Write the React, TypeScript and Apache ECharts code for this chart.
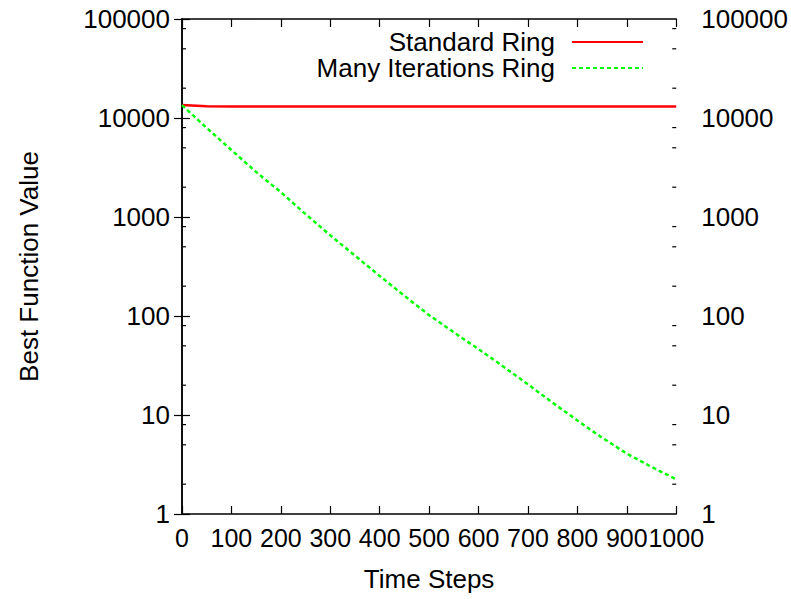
import React, { useEffect, useRef } from "react";
import * as echarts from "echarts";

// Time steps shared by both runs
const steps = [0, 50, 100, 150, 200, 250, 300, 350, 400, 450, 500, 550, 600, 650, 700, 750, 800, 850, 900, 950, 1000];

// Best function value, standard ring topology
const standardRing = [13500, 13150, 13100, 13100, 13100, 13100, 13100, 13100, 13100, 13100, 13100, 13100, 13100, 13100, 13100, 13100, 13100, 13100, 13100, 13100, 13100];

// Best function value, ring with many iterations
const manyIterationsRing = [13500, 7940, 4750, 2850, 1780, 1070, 653, 407, 254, 160, 102, 68.4, 46.2, 30.9, 20.4, 13.3, 8.8, 5.9, 4.07, 2.99, 2.24];

// Minor tick positions on the log axis (2, 5, 8 of each decade)
const minorTickValues = [2, 5, 8, 20, 50, 80, 200, 500, 800, 2000, 5000, 8000, 20000, 50000, 80000];

const FONT = "Liberation Sans";
const FS = 26;

export default function App() {
  const ref = useRef<HTMLDivElement>(null);

  useEffect(() => {
    if (!ref.current) return;
    const chart = echarts.init(ref.current, undefined, { renderer: "svg" });

    const axisLine = { show: true, lineStyle: { color: "#000", width: 1.5 } };
    const tick = { show: true, inside: true, length: 8, lineStyle: { color: "#000", width: 1.2 } };
    const label = { color: "#000", fontFamily: FONT, fontSize: FS };
    const legendBase = {
      align: "right",
      itemWidth: 71,
      itemHeight: 14,
      itemStyle: { opacity: 0 },
      textStyle: { color: "#000", fontFamily: FONT, fontSize: FS, lineHeight: 24, padding: [0, 12, 0, 0] },
      selectedMode: false,
    };

    chart.setOption({
      animation: false,
      backgroundColor: "#fff",
      grid: { left: 182, right: 113, top: 19, bottom: 85, containLabel: false },
      legend: [
        { ...legendBase, data: ["Standard Ring"], right: 142, top: 24 },
        { ...legendBase, data: ["Many Iterations Ring"], right: 142, top: 50 },
      ],
      xAxis: [
        {
          type: "value",
          min: 0,
          max: 1000,
          interval: 100,
          position: "bottom",
          name: "Time Steps",
          nameLocation: "middle",
          nameGap: 52,
          nameTextStyle: { color: "#000", fontFamily: FONT, fontSize: FS },
          axisLine,
          axisTick: tick,
          axisLabel: {
            ...label,
            fontSize: 25,
            margin: 11,
            showMinLabel: true,
            showMaxLabel: true,
            formatter: (v: number) => String(v),
          },
          splitLine: { show: false },
        },
        {
          type: "value",
          min: 0,
          max: 1000,
          interval: 100,
          position: "top",
          axisLine,
          axisTick: tick,
          axisLabel: { show: false },
          splitLine: { show: false },
        },
      ],
      yAxis: [
        {
          type: "log",
          logBase: 10,
          min: 1,
          max: 100000,
          position: "left",
          name: "Best Function Value",
          nameLocation: "middle",
          nameGap: 140,
          nameRotate: 90,
          nameTextStyle: { color: "#000", fontFamily: FONT, fontSize: FS },
          axisLine,
          axisTick: tick,
          axisLabel: { ...label, margin: 12, formatter: (v: number) => String(Math.round(v)) },
          splitLine: { show: false },
        },
        {
          type: "log",
          logBase: 10,
          min: 1,
          max: 100000,
          position: "right",
          axisLine,
          axisTick: tick,
          axisLabel: { ...label, margin: 25, formatter: (v: number) => String(Math.round(v)) },
          splitLine: { show: false },
        },
      ],
      series: [
        {
          name: "Standard Ring",
          type: "line",
          xAxisIndex: 0,
          yAxisIndex: 0,
          symbol: "none",
          color: "#ff0000",
          lineStyle: { color: "#ff0000", width: 2.5 },
          data: steps.map((s, i) => [s, standardRing[i]]),
          z: 3,
        },
        {
          name: "Many Iterations Ring",
          type: "line",
          xAxisIndex: 0,
          yAxisIndex: 0,
          symbol: "none",
          color: "#00ff00",
          lineStyle: { color: "#00ff00", width: 2.5, type: [4, 3] },
          data: steps.map((s, i) => [s, manyIterationsRing[i]]),
          z: 4,
        },
        {
          // short inward minor ticks on both vertical borders
          type: "custom",
          xAxisIndex: 0,
          yAxisIndex: 0,
          silent: true,
          data: minorTickValues.map((v) => [0, v]),
          renderItem: (params: any, api: any) => {
            const v = api.value(1);
            const l = api.coord([0, v]);
            const r = api.coord([1000, v]);
            const style = { stroke: "#000", lineWidth: 1.2 };
            return {
              type: "group",
              children: [
                { type: "line", shape: { x1: l[0], y1: l[1], x2: l[0] + 4, y2: l[1] }, style },
                { type: "line", shape: { x1: r[0], y1: r[1], x2: r[0] - 4, y2: r[1] }, style },
              ],
            };
          },
          z: 2,
        },
      ],
    });

    return () => chart.dispose();
  }, []);

  return (
    <div
      ref={ref}
      style={{ position: "fixed", left: 0, top: 0, width: 791, height: 599, background: "#fff" }}
    />
  );
}
